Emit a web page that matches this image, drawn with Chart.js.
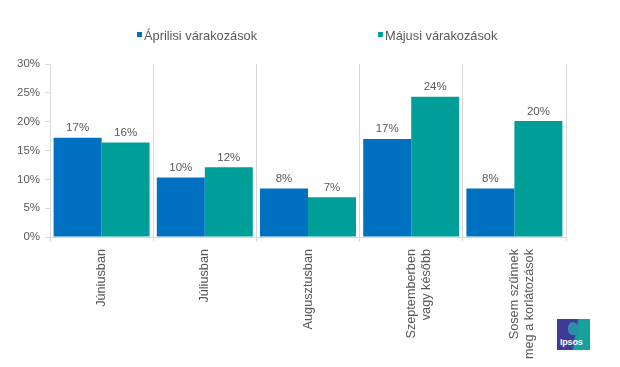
<!DOCTYPE html>
<html>
<head>
<meta charset="utf-8">
<script src="https://cdn.jsdelivr.net/npm/chart.js@4"></script>
<style>
  html, body { margin: 0; padding: 0; background: #fff; }
  #wrap { position: relative; width: 620px; height: 367px; }
  #logo { position: absolute; left: 557px; top: 319px; width: 33px; height: 31px;
          background: linear-gradient(100deg, #3d3b96 0%, #3d3b96 52%, #17a19c 58%, #17a19c 100%);
          color: #fff; font: bold 9px "Liberation Sans", Arial, sans-serif; }
  #logo .head { position: absolute; left: 11px; top: 3px; width: 10px; height: 13px; border-radius: 50% 55% 40% 45%;
          background: #2b8fa8; }
  #logo .txt { position: absolute; left: 3px; top: 18px; letter-spacing: -0.2px; }
</style>
</head>
<body>
<div id="wrap">
  <canvas id="c" width="620" height="367"></canvas>
  <div id="logo"><div class="head"></div><div class="txt">Ipsos</div></div>
</div>
<script>
const categories = [
  "Júniusban",
  "Júliusban",
  "Augusztusban",
  ["Szeptemberben", "vagy később"],
  ["Sosem szűnnek", "meg a korlátozások"]
];
const seriesNames = ["Áprilisi várakozások", "Májusi várakozások"];
const aprilValues = [17.2, 10.3, 8.4, 17.0, 8.4];
const mayValues = [16.4, 12.1, 6.9, 24.3, 20.1];
const yTicks = [0, 5, 10, 15, 20, 25, 30];
const colors = ["#0070C0", "#009E99"];

const FONT = '"Liberation Sans", Arial, sans-serif';
const TXT = "#595959";

const valueLabels = {
  id: "valueLabels",
  afterDatasetsDraw(chart) {
    const ctx = chart.ctx;
    ctx.save();
    ctx.font = "11.5px " + FONT;
    ctx.fillStyle = TXT;
    ctx.textAlign = "center";
    ctx.textBaseline = "bottom";
    chart.data.datasets.forEach((ds, di) => {
      chart.getDatasetMeta(di).data.forEach((bar, i) => {
        ctx.fillText(Math.round(ds.data[i]) + "%", bar.x, bar.y - 4);
      });
    });
    ctx.restore();
  }
};

const customLegend = {
  id: "customLegend",
  afterDraw(chart) {
    const ctx = chart.ctx;
    const xs = [137, 378];
    ctx.save();
    ctx.font = "12.8px " + FONT;
    ctx.textBaseline = "middle";
    ctx.textAlign = "left";
    chart.data.datasets.forEach((ds, i) => {
      ctx.fillStyle = ds.backgroundColor;
      ctx.fillRect(xs[i], 32, 5, 5);
      ctx.fillStyle = TXT;
      ctx.fillText(ds.label, xs[i] + 7, 36.5);
    });
    ctx.restore();
  }
};

new Chart(document.getElementById("c"), {
  type: "bar",
  data: {
    labels: categories,
    datasets: [
      { label: seriesNames[0], data: aprilValues, backgroundColor: colors[0] },
      { label: seriesNames[1], data: mayValues, backgroundColor: colors[1] }
    ]
  },
  options: {
    responsive: false,
    animation: false,
    devicePixelRatio: 1,
    layout: { padding: { left: 0, right: 54, top: 64, bottom: 0 } },
    datasets: { bar: { categoryPercentage: 0.93, barPercentage: 1.0 } },
    plugins: { legend: { display: false }, tooltip: { enabled: false } },
    scales: {
      x: {
        grid: { offset: true, drawOnChartArea: true, color: "#d9d9d9", tickLength: 5 },
        border: { color: "#d9d9d9" },
        ticks: {
          color: TXT, font: { family: FONT, size: 12.7, lineHeight: 1.2 },
          maxRotation: 90, minRotation: 90, padding: 7, autoSkip: false
        },
        afterFit(s) { s.height = 130; }
      },
      y: {
        min: 0, max: 30,
        afterBuildTicks(s) { s.ticks = yTicks.map(v => ({ value: v })); },
        grid: { drawOnChartArea: false, color: "#d9d9d9", tickLength: 5 },
        border: { color: "#d9d9d9" },
        ticks: {
          color: TXT, font: { family: FONT, size: 11.5 }, padding: 5,
          callback: v => v + "%"
        },
        afterFit(s) { s.width = 50; }
      }
    }
  },
  plugins: [valueLabels, customLegend]
});
</script>
</body>
</html>
